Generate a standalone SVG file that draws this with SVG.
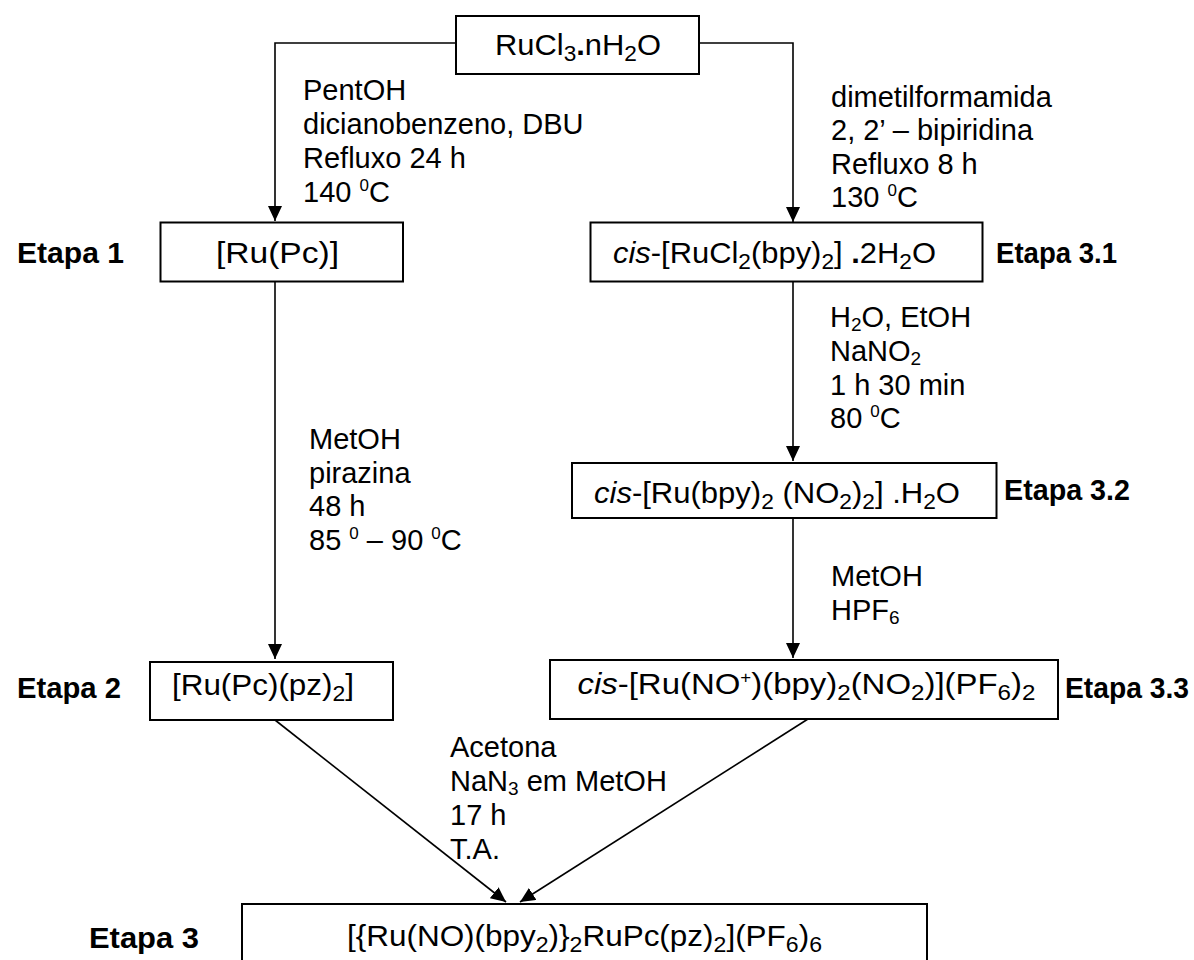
<svg xmlns="http://www.w3.org/2000/svg" width="1194" height="960" viewBox="0 0 1194 960">
<style>
.t{font-family:"Liberation Sans",Arial,sans-serif;font-size:29px;fill:#000}
.m{font-size:30px}
.b{font-weight:bold;font-size:29px}
.box{fill:#fff;stroke:#000;stroke-width:2}
.ln{stroke:#000;stroke-width:1.6;fill:none;marker-end:url(#ah)}
.sub{font-size:22px}
.sl{font-size:19px}
.sup{font-size:17px}
</style>
<defs>
<marker id="ah" markerWidth="15" markerHeight="14" refX="15" refY="7" orient="auto" markerUnits="userSpaceOnUse"><path d="M0,0 L15,7 L0,14 z" fill="#000"/></marker>
</defs>
<rect width="1194" height="960" fill="#fff"/>
<g id="connectors">
<path class="ln" d="M456,43 H275 V221"/>
<path class="ln" d="M699,43 H793 V222"/>
<path class="ln" d="M275,282 V659"/>
<path class="ln" d="M793,282 V461"/>
<path class="ln" d="M793,518 V658"/>
<path class="ln" d="M275,720 L506,902"/>
<path class="ln" d="M808,719 L520,902"/>
</g>
<g id="n0">
<rect class="box" x="456" y="16" width="243" height="58"/>
<text class="t m" x="495" y="55" textLength="166" lengthAdjust="spacingAndGlyphs">RuCl<tspan class="sub" dy="6">3</tspan><tspan dy="-6" font-weight="bold">.</tspan>nH<tspan class="sub" dy="6">2</tspan><tspan dy="-6">O</tspan></text>
</g>
<g id="lab1">
<text class="t" x="303" y="100">PentOH</text>
<text class="t" x="303" y="134">dicianobenzeno, DBU</text>
<text class="t" x="303" y="168">Refluxo 24 h</text>
<text class="t" x="303" y="202">140 <tspan class="sup" dy="-11">0</tspan><tspan dy="11">C</tspan></text>
</g>
<g id="lab2">
<text class="t" x="831" y="107">dimetilformamida</text>
<text class="t" x="831" y="140">2, 2’ – bipiridina</text>
<text class="t" x="831" y="174">Refluxo 8 h</text>
<text class="t" x="831" y="207">130 <tspan class="sup" dy="-11">0</tspan><tspan dy="11">C</tspan></text>
</g>
<g id="n1">
<text class="t b" x="17" y="263" textLength="107" lengthAdjust="spacingAndGlyphs">Etapa 1</text>
<rect class="box" x="160.5" y="222.5" width="242.5" height="59"/>
<text class="t m" x="216" y="263" textLength="123" lengthAdjust="spacingAndGlyphs">[Ru(Pc)]</text>
</g>
<g id="n31">
<rect class="box" x="590.5" y="222.5" width="392" height="59"/>
<text class="t m" x="613" y="263" textLength="323" lengthAdjust="spacingAndGlyphs"><tspan font-style="italic">cis</tspan>-[RuCl<tspan class="sub" dy="6">2</tspan><tspan dy="-6">(bpy)</tspan><tspan class="sub" dy="6">2</tspan><tspan dy="-6">] </tspan><tspan font-weight="bold">.</tspan>2H<tspan class="sub" dy="6">2</tspan><tspan dy="-6">O</tspan></text>
<text class="t b" x="996" y="263" textLength="121" lengthAdjust="spacingAndGlyphs">Etapa 3.1</text>
</g>
<g id="lab3">
<text class="t" x="830" y="327">H<tspan class="sl" dy="4">2</tspan><tspan dy="-4">O, EtOH</tspan></text>
<text class="t" x="830" y="361">NaNO<tspan class="sl" dy="4">2</tspan></text>
<text class="t" x="830" y="395">1 h 30 min</text>
<text class="t" x="830" y="428">80 <tspan class="sup" dy="-11">0</tspan><tspan dy="11">C</tspan></text>
</g>
<g id="lab4">
<text class="t" x="309" y="449">MetOH</text>
<text class="t" x="309" y="483">pirazina</text>
<text class="t" x="309" y="516">48 h</text>
<text class="t" x="309" y="550">85 <tspan class="sup" dy="-11">0</tspan><tspan dy="11"> – 90 </tspan><tspan class="sup" dy="-11">0</tspan><tspan dy="11">C</tspan></text>
</g>
<g id="n32">
<rect class="box" x="572" y="463" width="424.5" height="55"/>
<text class="t m" x="594" y="503" textLength="366" lengthAdjust="spacingAndGlyphs"><tspan font-style="italic">cis</tspan>-[Ru(bpy)<tspan class="sub" dy="6">2</tspan><tspan dy="-6"> (NO</tspan><tspan class="sub" dy="6">2</tspan><tspan dy="-6">)</tspan><tspan class="sub" dy="6">2</tspan><tspan dy="-6">] .H</tspan><tspan class="sub" dy="6">2</tspan><tspan dy="-6">O</tspan></text>
<text class="t b" x="1004" y="500" textLength="126" lengthAdjust="spacingAndGlyphs">Etapa 3.2</text>
</g>
<g id="lab5">
<text class="t" x="831" y="586">MetOH</text>
<text class="t" x="831" y="620">HPF<tspan class="sl" dy="4">6</tspan></text>
</g>
<g id="n2">
<text class="t b" x="17" y="698" textLength="104" lengthAdjust="spacingAndGlyphs">Etapa 2</text>
<rect class="box" x="150" y="662" width="243" height="58"/>
<text class="t m" x="172" y="695" textLength="182" lengthAdjust="spacingAndGlyphs">[Ru(Pc)(pz)<tspan class="sub" dy="6">2</tspan><tspan dy="-6">]</tspan></text>
</g>
<g id="n33">
<rect class="box" x="550" y="660" width="508" height="59"/>
<text class="t m" x="577.5" y="694" textLength="458" lengthAdjust="spacingAndGlyphs"><tspan font-style="italic">cis</tspan>-[Ru(NO<tspan class="sup" dy="-11">+</tspan><tspan dy="11">)(bpy)</tspan><tspan class="sub" dy="6">2</tspan><tspan dy="-6">(NO</tspan><tspan class="sub" dy="6">2</tspan><tspan dy="-6">)](PF</tspan><tspan class="sub" dy="6">6</tspan><tspan dy="-6">)</tspan><tspan class="sub" dy="6">2</tspan></text>
<text class="t b" x="1065" y="698" textLength="124" lengthAdjust="spacingAndGlyphs">Etapa 3.3</text>
</g>
<g id="lab6">
<text class="t" x="450" y="757">Acetona</text>
<text class="t" x="450" y="791">NaN<tspan class="sl" dy="4">3</tspan><tspan dy="-4"> em MetOH</tspan></text>
<text class="t" x="450" y="825">17 h</text>
<text class="t" x="450" y="859">T.A.</text>
</g>
<g id="n3">
<text class="t b" x="89" y="948" textLength="110" lengthAdjust="spacingAndGlyphs">Etapa 3</text>
<rect class="box" x="242" y="904" width="685" height="70"/>
<text class="t m" x="347" y="946" textLength="475" lengthAdjust="spacingAndGlyphs">[{Ru(NO)(bpy<tspan class="sub" dy="6">2</tspan><tspan dy="-6">)}</tspan><tspan class="sub" dy="6">2</tspan><tspan dy="-6">RuPc(pz)</tspan><tspan class="sub" dy="6">2</tspan><tspan dy="-6">](PF</tspan><tspan class="sub" dy="6">6</tspan><tspan dy="-6">)</tspan><tspan class="sub" dy="6">6</tspan></text>
</g>
</svg>
